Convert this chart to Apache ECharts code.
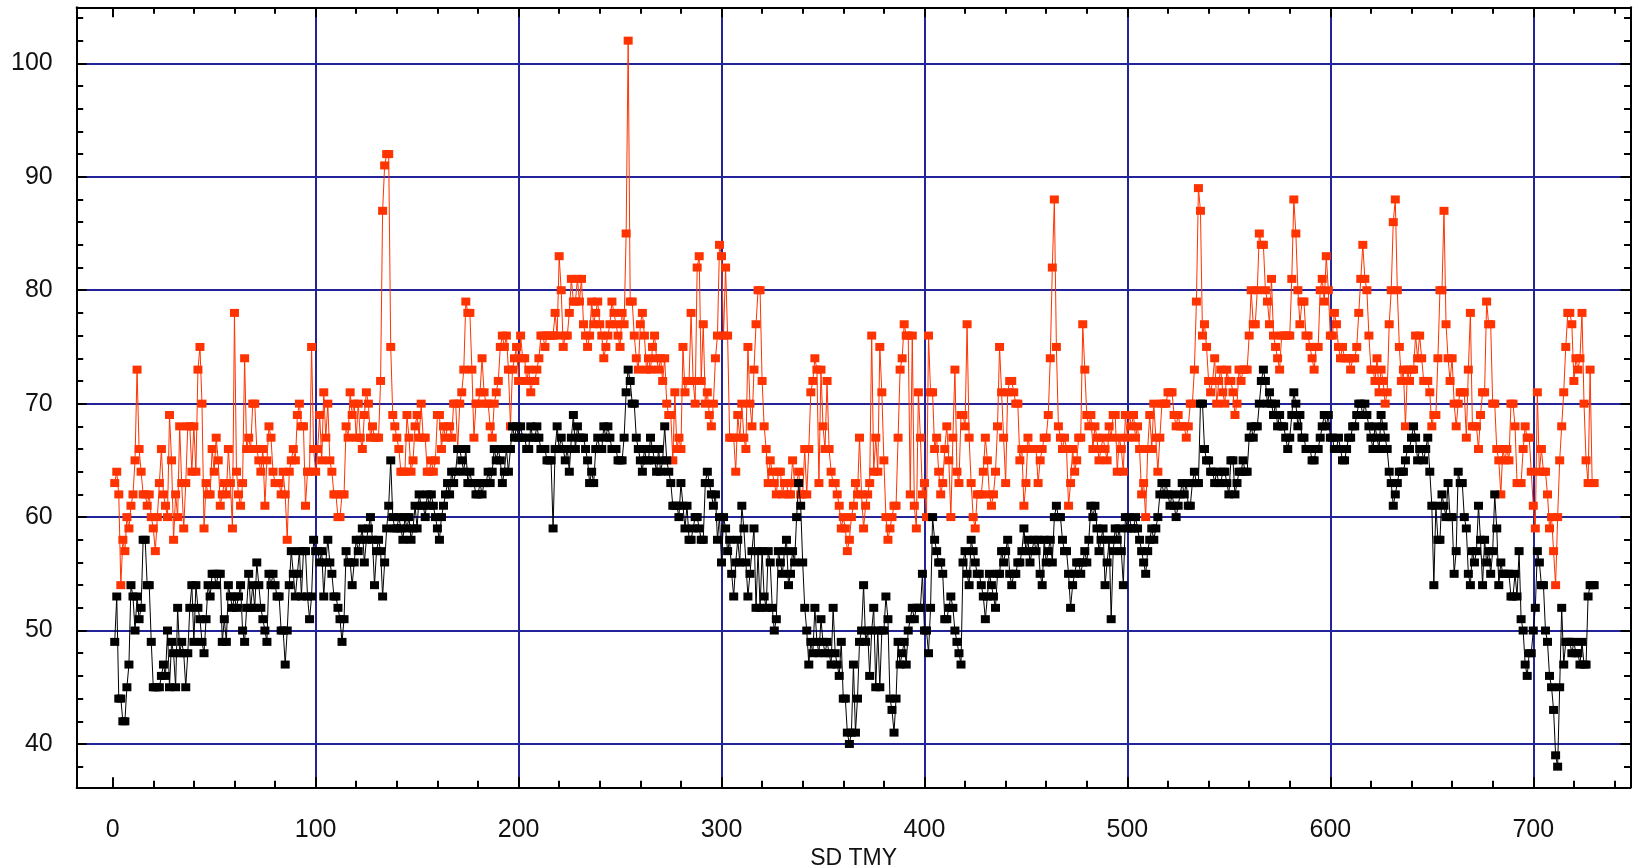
<!DOCTYPE html>
<html>
<head>
<meta charset="utf-8">
<script src="https://cdn.jsdelivr.net/npm/echarts@6/dist/echarts.min.js"></script>
<style>
html,body{margin:0;padding:0;background:#ffffff;}
#chart{width:1634px;height:866px;}
</style>
</head>
<body>
<div id="chart"></div>
<script>
// ---------------- data ----------------
const xAxisTitle = 'SD TMY';
const xStart = 1; // first day index
const xTickValues = [0, 100, 200, 300, 400, 500, 600, 700];
const yTickValues = [40, 50, 60, 70, 80, 90, 100];

// red series (upper), days 1..730
const red_001_100 = [63,64,62,54,58,57,60,59,61,62,65,73,66,64,62,62,61,62,60,59,57,60,63,66,62,61,60,69,65,58,62,60,68,63,59,63,68,68,64,68,64,73,75,70,59,63,62,62,66,64,67,65,61,62,63,62,66,63,59,78,64,62,61,63,74,66,67,66,70,70,66,65,64,66,61,65,68,67,64,63,63,63,62,64,62,58,64,65,66,65,69,70,68,68,61,64,64,75,66,64];
const red_101_200 = [66,69,65,71,67,70,65,64,62,62,60,60,62,62,68,67,71,69,70,67,70,67,66,69,71,70,67,68,67,67,67,72,87,91,92,92,75,69,68,67,66,64,64,64,69,67,64,65,68,69,67,70,67,67,64,64,65,64,65,69,69,66,68,67,68,68,67,70,70,66,70,71,73,79,78,78,73,67,70,70,71,74,71,70,70,68,67,70,71,72,75,76,75,76,73,68,73,74,75,72];
const red_201_300 = [76,74,74,72,73,71,72,72,73,74,76,76,75,76,76,76,76,78,76,83,80,75,76,76,78,81,79,79,81,79,81,77,76,75,76,79,77,78,79,77,76,74,75,76,77,79,78,77,76,75,78,77,85,102,79,79,76,74,73,77,78,76,73,74,73,75,76,74,73,74,72,74,70,69,69,65,71,66,67,66,75,71,72,72,78,72,70,82,83,72,77,70,71,69,68,70,74,76,84,83];
const red_301_400 = [76,82,76,67,67,67,64,69,67,70,67,66,75,70,68,73,77,80,80,72,68,66,63,65,64,63,62,64,64,62,63,63,62,62,65,63,63,64,62,62,66,62,66,71,72,74,73,63,73,68,66,72,66,64,63,63,62,61,59,60,59,57,58,60,61,63,62,67,62,59,61,62,63,76,64,67,64,75,71,65,60,58,59,60,61,61,67,73,74,77,76,76,62,76,61,59,71,67,62,63];
const red_401_500 = [60,76,71,71,66,67,64,62,63,66,68,65,60,67,73,64,63,69,69,68,77,67,63,60,59,62,62,62,64,67,65,62,61,62,64,68,75,71,67,63,71,72,72,71,70,70,65,66,61,63,67,66,66,66,66,63,65,66,67,67,69,74,82,88,75,68,67,66,67,66,61,63,66,64,65,67,67,77,73,69,68,69,66,68,67,65,66,67,66,65,68,67,69,69,64,67,66,64,69,67];
const red_501_600 = [69,68,69,67,68,66,62,63,60,66,69,66,70,67,64,67,70,70,70,71,71,71,69,68,69,68,68,68,67,68,70,70,73,79,89,87,76,77,75,72,71,72,74,70,72,73,71,70,73,72,72,71,69,70,73,72,73,73,73,76,80,77,77,80,85,84,84,80,79,77,81,76,75,74,73,76,76,76,76,76,81,88,85,80,77,79,79,76,76,75,74,73,75,75,80,81,79,83,80,76];
const red_601_700 = [76,78,77,75,74,75,74,74,74,73,74,74,75,78,81,84,81,80,76,73,73,72,74,71,73,72,70,71,77,80,86,88,80,75,72,73,68,73,72,73,73,76,74,76,74,72,72,72,71,68,69,69,74,80,80,87,77,74,72,74,70,68,70,71,71,71,67,73,78,68,68,68,66,69,71,71,79,77,77,70,70,66,65,62,66,65,66,65,70,70,68,63,63,63,66,68,67,67,64,61];
const red_701_730 = [59,71,64,66,64,64,62,59,60,57,54,60,65,68,71,75,78,78,77,72,74,73,74,78,70,65,63,73,63,63];

// black series (lower), days 1..730
const black_001_100 = [49,53,44,44,42,42,45,47,54,53,50,53,51,52,58,58,54,54,49,45,45,45,45,46,47,46,50,45,49,48,45,52,48,49,48,45,48,52,54,49,54,52,51,49,48,51,54,53,55,55,54,55,55,49,51,49,54,53,52,53,52,53,54,50,49,52,55,52,54,52,56,54,52,51,50,49,55,54,55,54,53,53,50,50,47,50,54,57,55,53,55,57,53,57,57,53,51,53,58,57];
const black_101_200 = [57,56,57,53,56,58,56,55,53,53,52,51,49,51,57,56,56,54,56,58,57,58,59,56,58,59,60,58,54,57,58,57,53,56,59,61,65,60,59,59,60,59,58,60,59,60,58,59,61,59,62,61,61,60,62,61,62,61,60,59,58,60,61,62,63,62,64,63,64,66,66,65,64,66,63,64,63,63,62,62,63,62,63,63,64,63,64,66,65,66,65,63,64,66,64,66,68,67,68,67];
const black_201_300 = [68,67,67,66,66,68,67,67,68,67,66,66,66,65,65,65,59,66,68,66,67,66,65,66,64,67,69,66,68,67,67,67,66,65,63,64,63,66,67,66,66,68,67,68,67,66,66,66,65,65,65,67,71,73,72,70,70,67,66,65,64,66,65,65,67,66,65,64,66,64,65,68,65,64,63,61,61,61,60,63,61,59,61,58,58,59,60,60,59,58,58,63,64,63,62,61,62,58,60,56];
const black_301_400 = [60,59,57,58,55,53,56,58,56,61,59,56,53,55,57,59,52,57,52,57,53,52,57,56,52,50,51,57,56,55,57,58,54,55,57,56,60,63,61,56,52,50,47,49,48,52,49,48,51,49,48,49,48,47,52,48,47,46,49,44,44,41,40,41,47,41,44,49,50,54,49,50,46,50,52,45,50,45,50,50,53,51,44,43,41,44,49,47,48,49,47,50,51,52,51,52,52,52,55,50];
const black_401_500 = [50,48,52,60,58,57,56,56,55,51,51,52,53,52,50,49,48,47,56,57,55,54,58,57,56,55,55,54,53,51,53,55,54,53,52,55,55,57,56,57,58,55,54,55,55,56,56,57,59,57,58,56,57,58,57,58,55,54,58,56,57,58,56,60,61,60,60,58,57,57,55,52,54,55,56,56,55,56,57,56,58,61,60,61,59,57,58,59,54,56,58,51,57,59,58,59,57,54,60,59];
const black_501_600 = [60,59,59,60,59,58,57,56,55,57,58,59,58,59,60,62,63,62,63,62,61,62,61,60,61,62,63,62,63,61,61,63,64,63,63,70,70,66,65,65,64,64,63,64,63,63,64,64,63,62,65,65,62,63,64,64,65,64,64,67,68,67,68,68,70,72,73,72,70,71,70,69,70,68,69,68,68,67,66,67,69,71,70,68,69,67,67,66,66,66,65,65,66,66,67,68,69,68,69,67];
const black_601_700 = [67,66,66,67,66,65,65,66,67,67,68,68,69,70,70,69,70,69,68,67,66,68,67,66,69,68,67,66,64,63,61,62,63,64,64,64,65,66,66,67,68,67,65,66,66,65,66,67,64,61,54,61,58,58,62,61,60,63,60,60,55,57,64,63,63,60,59,55,54,57,56,57,61,58,54,58,56,57,55,57,62,59,54,56,55,55,55,55,53,53,55,53,57,51,50,47,46,48,48,50];
const black_701_730 = [52,57,56,54,54,50,49,46,45,43,39,38,45,52,47,49,49,49,48,49,48,48,47,49,47,47,53,54,54,54];

const redValues = [].concat(red_001_100, red_101_200, red_201_300, red_301_400, red_401_500, red_501_600, red_601_700, red_701_730);
const blackValues = [].concat(black_001_100, black_101_200, black_201_300, black_301_400, black_401_500, black_501_600, black_601_700, black_701_730);

// ---------------- chart ----------------
const toPairs = vals => vals.map((v, i) => [xStart + i, v]);
const FONT = 'Liberation Sans, Arial, sans-serif';
const NAVY = '#23239a';
const NONE = 'rgba(0,0,0,0)';
const X_MIN = -17.74, X_MAX = 747.9;
const Y_MIN = 36.18, Y_MAX = 104.94;

const xSplitColors = [NONE].concat(xTickValues.map(v => v === 0 ? NONE : NAVY), [NONE]);
const ySplitColors = [NONE].concat(yTickValues.map(() => NAVY), [NONE]);

const tickCommon = {show: true, inside: true, length: 10, lineStyle: {color: '#000', width: 2}};
const minorCommon = {show: true, splitNumber: 5, length: 6.5, lineStyle: {color: '#000', width: 2}};
const lineCommon = {show: true, onZero: false, lineStyle: {color: '#000', width: 2}};
const labelText = {color: '#111', fontFamily: FONT, fontSize: 25};
const nameText = {color: '#111', fontFamily: FONT, fontSize: 23};

const chart = echarts.init(document.getElementById('chart'), null, {renderer: 'canvas'});
chart.setOption({
  animation: false,
  backgroundColor: '#ffffff',
  grid: {left: 76.7, right: 3.5, top: 7.3, bottom: 78.7, containLabel: false, outerBoundsMode: 'none'},
  xAxis: [
    {
      type: 'value', position: 'bottom', min: X_MIN, max: X_MAX,
      minInterval: 100, maxInterval: 100,
      name: xAxisTitle, nameLocation: 'middle', nameGap: 55,
      nameTextStyle: nameText,
      axisLine: lineCommon, axisTick: tickCommon, minorTick: minorCommon,
      axisLabel: Object.assign({margin: 30, formatter: v => xTickValues.includes(v) ? String(v) : ''}, labelText),
      splitLine: {show: true, lineStyle: {color: xSplitColors, width: 2}},
      minorSplitLine: {show: false}
    },
    {
      type: 'value', position: 'top', min: X_MIN, max: X_MAX,
      minInterval: 100, maxInterval: 100,
      axisLine: lineCommon, axisTick: tickCommon, minorTick: minorCommon,
      axisLabel: {show: false}, splitLine: {show: false}
    }
  ],
  yAxis: [
    {
      type: 'value', position: 'left', min: Y_MIN, max: Y_MAX,
      minInterval: 10, maxInterval: 10,
      axisLine: lineCommon, axisTick: tickCommon, minorTick: minorCommon,
      axisLabel: Object.assign({margin: 24, formatter: v => yTickValues.includes(v) ? String(v) : ''}, labelText),
      splitLine: {show: true, lineStyle: {color: ySplitColors, width: 2}},
      minorSplitLine: {show: false}
    },
    {
      type: 'value', position: 'right', min: Y_MIN, max: Y_MAX,
      minInterval: 10, maxInterval: 10,
      axisLine: lineCommon, axisTick: tickCommon, minorTick: minorCommon,
      axisLabel: {show: false}, splitLine: {show: false}
    }
  ],
  series: [
    {
      name: 'red', type: 'line', xAxisIndex: 0, yAxisIndex: 0,
      data: toPairs(redValues),
      symbol: 'rect', symbolSize: [9, 8], showSymbol: true,
      lineStyle: {color: '#ff3300', width: 1},
      itemStyle: {color: '#ff3300'},
      emphasis: {disabled: true}, z: 3
    },
    {
      name: 'black', type: 'line', xAxisIndex: 0, yAxisIndex: 0,
      data: toPairs(blackValues),
      symbol: 'rect', symbolSize: [9, 8], showSymbol: true,
      lineStyle: {color: '#000000', width: 1},
      itemStyle: {color: '#000000'},
      emphasis: {disabled: true}, z: 4
    }
  ]
});
</script>
</body>
</html>
